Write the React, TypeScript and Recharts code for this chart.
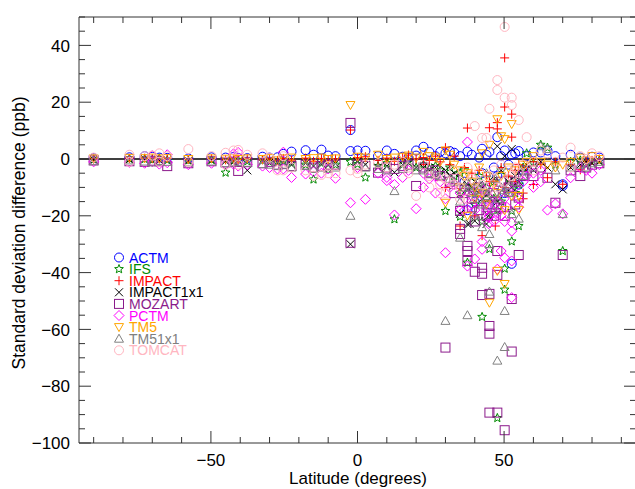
import { ScatterChart, Scatter, XAxis, YAxis, ReferenceLine } from 'recharts';

// station latitudes shared by the core arrays
const lats = [
  -90, -77.8, -72.6, -70, -67.6, -64.9, -57.7, -49.8, -45, -42.3, -40.7, -37.6, -32.4, -30, -27.3, -25.3,
  -22.5, -17.7, -15, -12.3, -10, -7.5, -2.4, 0, 2.7, 7, 10, 12.6, 15.4, 17.4, 20,
  22.5, 24.5, 26.6, 28.2, 30, 31.5, 33, 35, 36.5, 37.5, 39, 40, 41.5, 42.5, 44, 45, 46.5, 47.7, 49, 50.2,
  51.5, 52.6, 53.8, 55, 56.5, 57.7, 60, 62.5, 64.8, 67.5, 70, 72.7, 76, 78, 80, 82.5,
];

const actm = [
  0.3, 0.6, 1.0, 0.8, 0.5, 0.4, 0.2, 0.6, 0.5, 0.7, 0.4, 0.3, 0.8, 0.5, 0.6, 1.8, 2.6, 3.1, 1.5, 3.3, 1.2, 1.0, 2.8, 3.0, 2.9, 1.0, 3.0, 1.8, 0.8, 0.5, 1.2,
  4.3, 2.5, 1.0, 2.5, 2.0, 2.8, 2.2, 1.0, -8.0, 2.6, 1.5, -15.0, 0.5, 3.6, 1.5, 2.5, -3.0, 7.7, 1.0, 3.0, -2.0, 1.5, 2.0, 2.8, -4.0, 1.0, 2.3, 2.3, 3.0, 1.0, -8.9, 1.5, 0.5, -1.0, 0.8, 0.5,
];
const actmExtra = [[-2.4, 10.2], [52.6, -36.9], [50.2, -12], [45, -16], [42.5, -5], [47.7, -6], [55, -9], [70, -9.5], [20, 3.0], [37.5, -18]];

const ifs = [
  -0.2, 0.1, 0.0, -0.3, 0.2, -0.4, -0.5, -0.3, -4.8, -0.6, -0.4, -0.8, -0.5, -1.0, -1.2, -0.8, -1.5, -2.0, -7.2, -1.5, -3.3, -2.0, -1.0, -1.8, -6.5, -2.5, -1.5, -21.2, -2.0, -1.0, -3.0,
  -2.0, -3.5, -2.5, -4.0, -18.3, -3.0, -6.0, -5.0, -4.0, -36.5, -8.0, -12.0, -6.0, -55.6, -10.0, -31.7, -14.0, -91.2, -4.0, -46.0, -7.0, -29.0, -12.0, -23.6, -3.0, 2.0, -1.5, 5.0, 4.0, -2.0, -32.4, -1.0, -0.5, -2.0, -1.0, -0.5,
];
const ifsExtra = [[50.2, -38.6], [52.6, -18.3], [55, -9], [45, -20], [40, -16], [44, -14], [47.7, -18], [35, -12], [42.5, -22], [37.5, -10], [49, -15], [46.5, -8], [35, -20.3]];

const impact = [
  0.0, 0.2, 0.3, 0.1, 0.0, 0.2, -0.2, 0.1, -0.3, 0.0, -0.2, 0.1, -0.3, 0.0, -0.5, 0.2, -0.4, 0.3, -0.8, 0.2, -0.5, 0.0, 10.2, 0.5, 0.8, -0.5, 0.3, -0.8, 0.5, 1.4, 0.0,
  0.5, -0.5, 1.0, -1.0, 4.0, -2.0, 1.0, -23.6, -3.0, 10.9, -5.0, -20.0, -4.0, -27.0, -6.0, 11.0, -8.0, 12.8, -3.0, 35.6, -6.0, 15.8, -4.0, -2.0, -12.0, -3.0, -1.0, -2.0, -6.6, -1.0, -8.9, -2.0, -3.8, -1.0, -0.5, 0.0,
];
const impactExtra = [[47.7, 10.6], [50.2, 18.3], [52.6, 7.7], [47, -23.6], [42.5, -12], [50.2, -10], [56.5, -14], [60, -9], [22.5, -2], [30, -10], [45, -8], [53.8, -8]];

const impact1x1 = [
  -0.3, -0.2, 0.0, -0.4, -0.5, -0.3, -0.6, -0.4, -0.8, -1.0, -0.6, -4.0, -0.8, -1.2, -1.5, -1.0, -2.0, -1.5, -2.5, -1.8, -2.2, -1.5, -30.0, -1.0, -2.0, -3.0, -2.5, -4.7, -2.0, -1.5, -3.0,
  -3.0, -4.0, -3.0, -5.0, -4.0, -6.0, -5.0, -19.3, -8.0, -22.9, -10.0, -21.8, -9.0, -14.0, -22.9, -12.0, -6.0, 4.5, -4.0, 1.0, -8.0, 3.5, -6.0, -5.0, -3.0, -2.0, -4.0, -1.0, -3.0, -8.9, -10.7, -3.0, -2.0, -1.0, -1.5, -1.0,
];
const impact1x1Extra = [[38.2, -22.8], [44.7, -20], [42.5, -10], [50.2, -12], [47.7, -15], [52.6, -10], [55, -8], [36.5, -12], [40, -8]];

const mozart = [
  -0.5, -0.8, -1.0, -0.6, -0.8, -2.5, -1.5, -0.8, -1.2, -1.0, -4.2, -1.0, -1.5, -1.0, -2.0, -1.8, -2.5, -2.0, -3.0, -2.5, -2.0, -2.0, 12.7, -2.0, -2.5, -4.8, -3.0, -3.5, -2.5, -2.0, -9.5,
  -3.0, -5.0, -4.0, -6.0, -66.4, -8.0, -7.0, -18.3, -12.0, -30.6, -14.0, -39.7, -10.0, -38.3, -16.0, -47.5, -12.0, -89.3, -8.0, -95.5, -10.0, -67.8, -8.0, -33.8, -6.0, -4.0, -6.0, -3.0, -6.6, -15.4, -33.8, -4.0, -6.0, -3.0, -2.0, -1.5,
];
const mozartExtra = [
  [-2.4, -29.5], [35, -24.6], [35, -26.4], [37.5, -32.4], [37.5, -35.9], [42.5, -40.4], [42.5, -47.9], [45, -58.8], [45, -61.5], [45, -89.3],
  [47.7, -40.8], [47.7, -32.4], [52.6, -49.3], [55, -13.6], [50.2, -20], [40, -22], [44, -20], [47.7, -16], [36.5, -11], [39, -17],
  [41.5, -18], [46.5, -20], [49, -17], [53.8, -16], [33, -12],
];

const pctm = [
  -1.0, -1.2, -1.5, -1.0, -1.8, -1.3, -2.0, -1.5, -2.0, -1.8, -2.5, -2.0, -2.5, -3.0, -3.5, 2.4, -6.5, -5.3, -4.5, -5.0, -3.5, -6.8, -15.4, -3.0, -14.2, -5.0, -6.5, -19.7, -6.5, -4.0, -17.5,
  -5.0, -7.0, -6.0, -8.0, -33.0, -10.0, -9.0, -12.0, -14.0, 6.0, -16.0, -35.2, -15.0, -29.1, -18.0, -20.0, -16.0, -38.8, -32.4, -34.8, -12.0, -48.8, -10.0, -14.0, -8.0, -6.0, -5.0, -4.0, -18.0, -15.8, -19.3, -6.6, -3.0, -4.0, -5.0, -2.0,
];
const pctmExtra = [
  [37.5, -37.7], [42.5, -31.8], [52.6, -35.9], [52.6, -25.4], [52.6, -22.4], [45, -17], [47.7, -19], [40, -18], [10, -7.6], [-25.3, -3.5],
  [12.6, -9], [35, -18], [44, -14], [49, -20], [46.5, -22], [50.2, -22], [55, -17], [36.5, -18], [38, -10], [39, -13],
  [41, -12], [43, -11], [46, -9], [48, -15], [51, -17], [47, -12], [50, -14], [-40.7, 2.3], [-42.3, 1.8], [-64.9, 1.5],
  [-70, 1.2], [22.5, -10], [26.6, -12], [30, -14], [60, -10], [62.5, -8], [44.7, -22.8], [44.7, -20.6],
];

const tm5 = [
  0.2, 0.4, 0.3, 0.5, 0.2, 0.3, 0.0, 0.2, 0.1, 0.3, 0.0, 0.2, 0.0, 0.3, -0.5, 0.2, 0.5, 0.0, 0.3, 0.5, 0.0, 0.2, 19.0, 0.8, 0.5, 1.5, 0.0, 0.5, 0.8, 1.2, 0.5,
  2.5, 1.0, 0.5, -1.0, -15.4, 1.5, -2.0, -4.0, -6.0, -5.0, -8.0, -10.0, -3.0, -12.0, -6.0, -50.6, -9.0, 14.0, -6.0, 7.0, -3.0, 12.3, -4.0, -13.0, -2.0, -1.0, 1.0, -1.0, -2.0, -3.0, -2.0, -1.0, 0.5, -0.5, 1.0, 0.0,
];
const tm5Extra = [[47.7, -39.4], [50.2, -44], [44, -16], [40, -14], [47.7, -12], [50.2, -18], [52.6, -13], [35, -10], [30, 3.0], [42.5, 2], [45, 5], [49, 8], [55, -18], [37.5, -20]];

const tm51x1 = [
  -0.8, -0.5, -0.9, -1.2, -0.7, -1.0, -1.2, -0.9, -1.5, -1.2, -1.0, -1.5, -1.8, -2.0, -2.5, -2.0, -3.0, -2.5, -3.5, -3.0, -3.5, -3.0, -20.0, -2.5, -3.0, -3.5, -4.0, -11.3, -3.5, -2.5, -4.0,
  -4.0, -5.0, -5.5, -6.0, -57.0, -7.0, -8.0, -27.7, -10.0, -55.0, -12.0, -14.0, -11.0, -16.0, -13.0, -46.7, -18.0, -71.0, -10.0, -66.2, -12.0, -19.4, -8.0, -21.0, -6.0, -4.0, -3.0, 4.5, 3.5, -4.0, -19.4, -3.0, -2.0, -3.0, -1.5, -1.0,
];
const tm51x1Extra = [[50.2, -53.5], [45, -26.4], [45, -30], [38, -9], [41, -8], [43, -10], [46, -12], [48, -14], [50, -11], [52, -9], [44, -5], [47, -7], [40, -20], [42.5, -24], [35, -15]];

const tomcat = [
  0.5, 1.5, 1.0, 1.2, 2.0, 1.0, 3.5, 1.0, 2.2, 3.0, 3.2, 1.5, 2.0, 0.5, -4.0, 1.0, -3.0, -4.0, -5.9, -5.6, -2.5, -5.0, -4.0, -3.5, -2.0, -1.5, -3.0, -2.0, -1.0, -3.0, -13.0,
  -2.0, -6.0, -5.0, -9.0, -7.0, -8.0, -4.0, -10.0, -6.0, -3.0, -7.0, 11.6, -5.0, 7.4, 7.4, 17.7, -4.0, 27.8, -2.0, 46.5, -4.0, 21.6, -3.0, 13.7, -2.0, 7.7, -1.0, 3.0, 2.0, -1.0, 0.5, 4.0, 1.0, 0.0, 2.0, 1.0,
];
const tomcatExtra = [
  [47.7, 24.3], [50.2, 21.6], [52.6, 19], [40, -8], [35, -14], [44, -12], [47.7, -10], [30, -12], [52.6, -6], [50.2, -8],
  [42.5, -9], [37.5, -14], [45, -6], [-40.7, -2], [-57.7, -1], [-25.3, -4], [-10, -5], [0, -5], [17.4, -5], [24.5, -10],
  [28.2, -12], [33, -9], [55, -5], [60, -4], [72.7, -3], [-45, -2], [-67.6, -1], [-77.8, -1],
];

const xTicks = [-90, -80, -70, -60, -50, -40, -30, -20, -10, 0, 10, 20, 30, 40, 50, 60, 70, 80, 90];
const yTicks = [-100, -95, -90, -85, -80, -75, -70, -65, -60, -55, -50, -45, -40, -35, -30, -25, -20, -15, -10, -5, 0, 5, 10, 15, 20, 25, 30, 35, 40, 45, 50];

const models = [
  { name: 'ACTM', kind: 'circle', color: '#0000ff', core: actm, extra: actmExtra },
  { name: 'IFS', kind: 'star', color: '#008a00', core: ifs, extra: ifsExtra },
  { name: 'IMPACT', kind: 'plus', color: '#ff0000', core: impact, extra: impactExtra },
  { name: 'IMPACT1x1', kind: 'cross', color: '#000000', core: impact1x1, extra: impact1x1Extra },
  { name: 'MOZART', kind: 'square', color: '#8b1a8b', core: mozart, extra: mozartExtra },
  { name: 'PCTM', kind: 'diamond', color: '#ff00ff', core: pctm, extra: pctmExtra },
  { name: 'TM5', kind: 'tdown', color: '#ffa500', core: tm5, extra: tm5Extra },
  { name: 'TM51x1', kind: 'tup', color: '#808080', core: tm51x1, extra: tm51x1Extra },
  { name: 'TOMCAT', kind: 'circle', color: '#ffb6c1', core: tomcat, extra: tomcatExtra },
];

const FONT = '"Liberation Sans", Arial, Helvetica, sans-serif';
const AX = '#333';

const fmt = (v: number) => (v < 0 ? '\u2212' + Math.abs(v) : String(v));

function starPoints(cx: number, cy: number) {
  const pts: string[] = [];
  for (let i = 0; i < 10; i++) {
    const r = i % 2 === 0 ? 4.6 : 2.0;
    const a = -Math.PI / 2 + (i * Math.PI) / 5;
    pts.push(`${cx + r * Math.cos(a)},${cy + r * Math.sin(a)}`);
  }
  return pts.join(' ');
}

function Marker({ kind, color, cx, cy }: { kind: string; color: string; cx: number; cy: number }) {
  const s = { fill: 'none', stroke: color, strokeWidth: 1 };
  switch (kind) {
    case 'circle':
      return <circle cx={cx} cy={cy} r={4.5} {...s} />;
    case 'square':
      return <rect x={cx - 4.5} y={cy - 4.5} width={9} height={9} {...s} />;
    case 'diamond':
      return <polygon points={`${cx},${cy - 5} ${cx + 5},${cy} ${cx},${cy + 5} ${cx - 5},${cy}`} {...s} />;
    case 'plus':
      return <path d={`M${cx - 4.5},${cy}H${cx + 4.5}M${cx},${cy - 4.5}V${cy + 4.5}`} {...s} />;
    case 'cross':
      return <path d={`M${cx - 4},${cy - 4}L${cx + 4},${cy + 4}M${cx - 4},${cy + 4}L${cx + 4},${cy - 4}`} {...s} />;
    case 'tup':
      return <polygon points={`${cx},${cy - 4.5} ${cx + 4.5},${cy + 3.5} ${cx - 4.5},${cy + 3.5}`} {...s} />;
    case 'tdown':
      return <polygon points={`${cx},${cy + 4.5} ${cx + 4.5},${cy - 3.5} ${cx - 4.5},${cy - 3.5}`} {...s} />;
    default:
      return <polygon points={starPoints(cx, cy)} {...s} />;
  }
}

function BottomTick({ x, y, payload }: any) {
  const major = payload.value % 50 === 0;
  return (
    <g>
      <line x1={x} x2={x} y1={y} y2={y - (major ? 12 : 6)} stroke={AX} />
      {major && (
        <text x={x} y={y + 23} textAnchor="middle" fontSize={17} fontFamily={FONT} fill="#000">
          {fmt(payload.value)}
        </text>
      )}
    </g>
  );
}

function TopTick({ x, y, payload }: any) {
  const major = payload.value % 50 === 0;
  return <line x1={x} x2={x} y1={y} y2={y + (major ? 12 : 6)} stroke={AX} />;
}

function LeftTick({ x, y, payload }: any) {
  const major = payload.value % 20 === 0;
  return (
    <g>
      <line x1={x} x2={x + (major ? 12 : 6)} y1={y} y2={y} stroke={AX} />
      {major && (
        <text x={x - 9} y={y} dy="0.36em" textAnchor="end" fontSize={17} fontFamily={FONT} fill="#000">
          {fmt(payload.value)}
        </text>
      )}
    </g>
  );
}

function RightTick({ x, y, payload }: any) {
  const major = payload.value % 20 === 0;
  return <line x1={x} x2={x - (major ? 12 : 6)} y1={y} y2={y} stroke={AX} />;
}

export default function App() {
  const series = models.map(m => ({
    ...m,
    data: m.core.map((v, i) => ({ x: lats[i], y: v })).concat(m.extra.map(([x, y]) => ({ x, y }))),
  }));

  return (
    <div style={{ position: 'fixed', left: 0, top: 0, width: 635, height: 489, overflow: 'hidden', background: '#fff' }}>
      <ScatterChart width={640} height={489} margin={{ top: 16, right: 3, bottom: 45, left: 78 }}>
        <XAxis
          xAxisId="b" orientation="bottom" type="number" dataKey="x" domain={[-95, 95]} allowDataOverflow ticks={xTicks} interval={0}
          height={1} tickSize={0} tickMargin={0} tickLine={false} axisLine={{ stroke: AX }} tick={<BottomTick />}
        />
        <XAxis
          xAxisId="t" orientation="top" type="number" dataKey="x" domain={[-95, 95]} allowDataOverflow ticks={xTicks} interval={0}
          height={1} tickSize={0} tickMargin={0} tickLine={false} axisLine={{ stroke: AX }} tick={<TopTick />}
        />
        <YAxis
          yAxisId="l" orientation="left" type="number" dataKey="y" domain={[-100, 50]} allowDataOverflow ticks={yTicks} interval={0}
          width={1} tickSize={0} tickMargin={0} tickLine={false} axisLine={{ stroke: AX }} tick={<LeftTick />}
        />
        <YAxis
          yAxisId="r" orientation="right" type="number" dataKey="y" domain={[-100, 50]} allowDataOverflow ticks={yTicks} interval={0}
          width={1} tickSize={0} tickMargin={0} tickLine={false} axisLine={{ stroke: AX }} tick={<RightTick />}
        />
        {series.map(m => (
          <Scatter
            key={m.name}
            name={m.name}
            data={m.data}
            xAxisId="b"
            yAxisId="l"
            isAnimationActive={false}
            shape={(p: any) => <Marker kind={m.kind} color={m.color} cx={p.cx} cy={p.cy} />}
          />
        ))}
        <ReferenceLine y={0} xAxisId="b" yAxisId="l" stroke="#000" strokeWidth={1.3} />
      </ScatterChart>
      <svg width={635} height={489} style={{ position: 'absolute', left: 0, top: 0, pointerEvents: 'none' }}>
        <text x={358} y={484} textAnchor="middle" fontSize={17} fontFamily={FONT}>Latitude (degrees)</text>
        <text
          x={0} y={0} transform="translate(25,233) rotate(-90)" textAnchor="middle" fontSize={17.5} fontFamily={FONT}
        >
          Standard deviation difference (ppb)
        </text>
        {models.map((m, i) => {
          const cy = 257.5 + i * 11.6;
          return (
            <g key={m.name}>
              <Marker kind={m.kind} color={m.color} cx={119} cy={cy} />
              <text x={129} y={cy} dy="0.36em" fontSize={14} fontFamily={FONT} fill={m.color}>{m.name}</text>
            </g>
          );
        })}
      </svg>
    </div>
  );
}
